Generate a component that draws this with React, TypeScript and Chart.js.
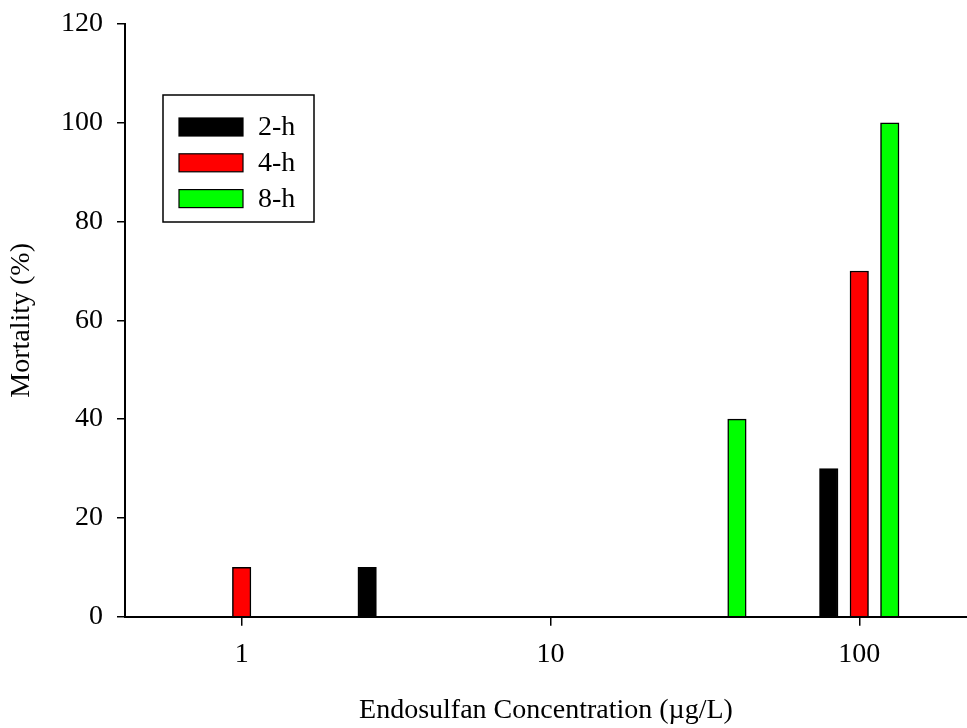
import React, { useEffect, useRef } from "react";
import { Chart, registerables } from "chart.js";

Chart.register(...registerables);

// ---- data ----
const concentrations = [1, 3.2, 10, 32, 100];
const seriesLabels = ["2-h", "4-h", "8-h"];
const mortality2h = [0, 10, 0, 0, 30];
const mortality4h = [10, 0, 0, 0, 70];
const mortality8h = [0, 0, 0, 40, 100];
const seriesColors = ["#000000", "#ff0000", "#00ff00"];
const xTickValues = [1, 10, 100];
const xTickLabels = ["1", "10", "100"];
const yTickValues = [0, 20, 40, 60, 80, 100, 120];

const FONT = "'Liberation Serif', 'Times New Roman', serif";

const boxLegend = {
  id: "boxLegend",
  afterDraw(chart: any) {
    const ctx = chart.ctx;
    ctx.save();
    ctx.lineWidth = 1.5;
    ctx.strokeStyle = "#000";
    ctx.strokeRect(163, 95, 151, 127);
    chart.data.datasets.forEach((ds: any, i: number) => {
      const cy = 127 + i * 35.8;
      ctx.fillStyle = ds.backgroundColor;
      ctx.fillRect(179, cy - 9, 64, 18);
      ctx.lineWidth = 1.2;
      ctx.strokeRect(179, cy - 9, 64, 18);
      ctx.fillStyle = "#000";
      ctx.font = `28px ${FONT}`;
      ctx.textBaseline = "alphabetic";
      ctx.textAlign = "left";
      ctx.fillText(ds.label, 258, cy + 8);
    });
    ctx.restore();
  },
};

export default function App() {
  const canvasRef = useRef<HTMLCanvasElement | null>(null);

  useEffect(() => {
    if (!canvasRef.current) return;
    const seriesValues = [mortality2h, mortality4h, mortality8h];
    const chart = new Chart(canvasRef.current, {
      type: "bar",
      data: {
        datasets: seriesValues.map((vals, i) => ({
          label: seriesLabels[i],
          data: concentrations.map((c, j) => ({ x: c, y: vals[j] })),
          backgroundColor: seriesColors[i],
          borderColor: "#000",
          borderWidth: 1.5,
          barThickness: 30.5,
          maxBarThickness: 18.5,
        })),
      },
      options: {
        responsive: false,
        animation: false,
        devicePixelRatio: 1,
        layout: { padding: { top: 24, right: 0, left: 0, bottom: 0 } },
        plugins: { legend: { display: false }, tooltip: { enabled: false } },
        scales: {
          x: {
            type: "logarithmic",
            min: 0.419,
            max: 223.3,
            offset: false,
            afterBuildTicks: (s: any) => {
              s.ticks = xTickValues.map((v) => ({ value: v }));
            },
            afterFit: (s: any) => {
              s.height = 111.3;
              s.paddingLeft = 0;
              s.paddingRight = 0;
            },
            ticks: {
              color: "#000",
              font: { family: FONT, size: 28 },
              padding: 12,
              maxRotation: 0,
              autoSkip: false,
              callback: (v: any) => {
                const k = xTickValues.indexOf(Number(v));
                return k >= 0 ? xTickLabels[k] : "";
              },
            },
            grid: {
              display: true,
              offset: false,
              drawOnChartArea: false,
              drawTicks: true,
              tickLength: 9,
              color: "#000",
              lineWidth: 1.5,
            },
            border: { display: true, color: "#000", width: 2 },
            title: {
              display: true,
              text: "Endosulfan Concentration (µg/L)",
              color: "#000",
              font: { family: FONT, size: 28 },
              padding: { top: 0, bottom: 1 },
            },
          },
          y: {
            type: "linear",
            min: 0,
            max: 120,
            afterBuildTicks: (s: any) => {
              s.ticks = yTickValues.map((v) => ({ value: v }));
            },
            afterFit: (s: any) => {
              s.width = 125;
              s.paddingTop = 0;
              s.paddingBottom = 0;
            },
            ticks: {
              color: "#000",
              font: { family: FONT, size: 28 },
              padding: 14,
            },
            grid: {
              display: true,
              drawOnChartArea: false,
              drawTicks: true,
              tickLength: 8,
              color: "#000",
              lineWidth: 1.5,
            },
            border: { display: true, color: "#000", width: 2 },
            title: {
              display: true,
              text: "Mortality (%)",
              color: "#000",
              font: { family: FONT, size: 28 },
              padding: { top: 5, bottom: 0 },
            },
          },
        },
      },
      plugins: [boxLegend],
    } as any);
    return () => chart.destroy();
  }, []);

  return (
    <div style={{ position: "fixed", left: 0, top: 0, width: 967, height: 728, background: "#fff" }}>
      <canvas ref={canvasRef} width={967} height={728} style={{ display: "block" }} />
    </div>
  );
}
